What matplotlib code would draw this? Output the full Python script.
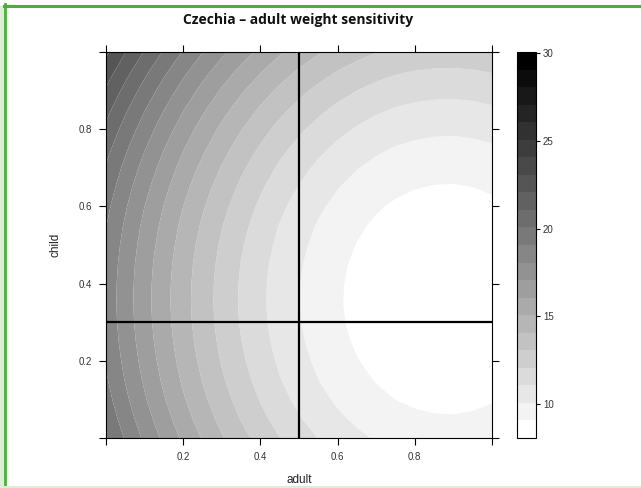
import matplotlib
matplotlib.use("Agg")
import matplotlib.pyplot as plt
import numpy as np
from matplotlib.colors import ListedColormap, BoundaryNorm
from matplotlib.patches import Rectangle
from matplotlib.lines import Line2D

# grid (adult across, child down the rows), step 0.05
adult = [0.0, 0.05, 0.1, 0.15, 0.2, 0.25, 0.3, 0.35, 0.4, 0.45, 0.5,
         0.55, 0.6, 0.65, 0.7, 0.75, 0.8, 0.85, 0.9, 0.95, 1.0]
child = [0.0, 0.05, 0.1, 0.15, 0.2, 0.25, 0.3, 0.35, 0.4, 0.45, 0.5,
         0.55, 0.6, 0.65, 0.7, 0.75, 0.8, 0.85, 0.9, 0.95, 1.0]
value = [
    [20.15, 18.98, 17.88, 16.85, 15.88, 14.99, 14.16, 13.40, 12.71, 12.08, 11.53, 11.04, 10.62, 10.27, 9.98, 9.76, 9.62, 9.54, 9.52, 9.58, 9.70],
    [19.77, 18.60, 17.50, 16.47, 15.50, 14.61, 13.78, 13.02, 12.33, 11.70, 11.15, 10.66, 10.24, 9.89, 9.60, 9.38, 9.24, 9.16, 9.14, 9.20, 9.32],
    [19.45, 18.28, 17.18, 16.15, 15.18, 14.29, 13.46, 12.70, 12.01, 11.38, 10.83, 10.34, 9.92, 9.57, 9.28, 9.06, 8.92, 8.84, 8.82, 8.88, 9.00],
    [19.19, 18.02, 16.92, 15.89, 14.92, 14.03, 13.20, 12.44, 11.75, 11.12, 10.57, 10.08, 9.66, 9.31, 9.02, 8.80, 8.66, 8.58, 8.56, 8.62, 8.74],
    [18.99, 17.82, 16.72, 15.69, 14.72, 13.83, 13.00, 12.24, 11.55, 10.92, 10.37, 9.88, 9.46, 9.11, 8.82, 8.60, 8.46, 8.38, 8.36, 8.42, 8.54],
    [18.84, 17.67, 16.57, 15.54, 14.57, 13.68, 12.85, 12.09, 11.40, 10.77, 10.22, 9.73, 9.31, 8.96, 8.67, 8.45, 8.31, 8.23, 8.21, 8.27, 8.39],
    [18.74, 17.57, 16.47, 15.44, 14.47, 13.58, 12.75, 11.99, 11.30, 10.67, 10.12, 9.63, 9.21, 8.86, 8.57, 8.35, 8.21, 8.13, 8.11, 8.17, 8.29],
    [18.70, 17.53, 16.43, 15.40, 14.43, 13.54, 12.71, 11.95, 11.26, 10.63, 10.08, 9.59, 9.17, 8.82, 8.53, 8.31, 8.17, 8.09, 8.07, 8.13, 8.25],
    [18.72, 17.55, 16.45, 15.42, 14.45, 13.56, 12.73, 11.97, 11.28, 10.65, 10.10, 9.61, 9.19, 8.84, 8.55, 8.33, 8.19, 8.11, 8.09, 8.15, 8.27],
    [18.79, 17.62, 16.52, 15.49, 14.52, 13.63, 12.80, 12.04, 11.35, 10.72, 10.17, 9.68, 9.26, 8.91, 8.62, 8.40, 8.26, 8.18, 8.16, 8.22, 8.34],
    [18.92, 17.75, 16.65, 15.62, 14.65, 13.76, 12.93, 12.17, 11.48, 10.85, 10.30, 9.81, 9.39, 9.04, 8.75, 8.53, 8.39, 8.31, 8.29, 8.35, 8.47],
    [19.10, 17.93, 16.83, 15.80, 14.83, 13.94, 13.11, 12.35, 11.66, 11.03, 10.48, 9.99, 9.57, 9.22, 8.93, 8.71, 8.57, 8.49, 8.47, 8.53, 8.65],
    [19.34, 18.17, 17.07, 16.04, 15.07, 14.18, 13.35, 12.59, 11.90, 11.27, 10.72, 10.23, 9.81, 9.46, 9.17, 8.95, 8.81, 8.73, 8.71, 8.77, 8.89],
    [19.64, 18.47, 17.37, 16.34, 15.37, 14.48, 13.65, 12.89, 12.20, 11.57, 11.02, 10.53, 10.11, 9.76, 9.47, 9.25, 9.11, 9.03, 9.01, 9.07, 9.19],
    [19.99, 18.82, 17.72, 16.69, 15.72, 14.83, 14.00, 13.24, 12.55, 11.92, 11.37, 10.88, 10.46, 10.11, 9.82, 9.60, 9.46, 9.38, 9.36, 9.42, 9.54],
    [20.40, 19.23, 18.13, 17.10, 16.13, 15.24, 14.41, 13.65, 12.96, 12.33, 11.78, 11.29, 10.87, 10.52, 10.23, 10.01, 9.87, 9.79, 9.77, 9.83, 9.95],
    [20.86, 19.69, 18.59, 17.56, 16.59, 15.70, 14.87, 14.11, 13.42, 12.79, 12.24, 11.75, 11.33, 10.98, 10.69, 10.47, 10.33, 10.25, 10.23, 10.29, 10.41],
    [21.38, 20.21, 19.11, 18.08, 17.11, 16.22, 15.39, 14.63, 13.94, 13.31, 12.76, 12.27, 11.85, 11.50, 11.21, 10.99, 10.85, 10.77, 10.75, 10.81, 10.93],
    [21.95, 20.78, 19.68, 18.65, 17.68, 16.79, 15.96, 15.20, 14.51, 13.88, 13.33, 12.84, 12.42, 12.07, 11.78, 11.56, 11.42, 11.34, 11.32, 11.38, 11.50],
    [22.58, 21.41, 20.31, 19.28, 18.31, 17.42, 16.59, 15.83, 15.14, 14.51, 13.96, 13.47, 13.05, 12.70, 12.41, 12.19, 12.05, 11.97, 11.95, 12.01, 12.13],
    [23.27, 22.10, 21.00, 19.97, 19.00, 18.11, 17.28, 16.52, 15.83, 15.20, 14.65, 14.16, 13.74, 13.39, 13.10, 12.88, 12.74, 12.66, 12.64, 12.70, 12.82],
]
levels = [8.07 + i for i in range(23)]
ref_adult = 0.5
ref_child = 0.3
tick_vals = [0.0, 0.2, 0.4, 0.6, 0.8, 1.0]
tick_labels = ["", "0.2", "0.4", "0.6", "0.8", ""]
cbar_ticks = [10, 15, 20, 25, 30]

nb = len(levels) - 1
greys = [str(1 - i / (nb - 1)) for i in range(nb)]
cmap = ListedColormap(greys)
norm = BoundaryNorm(levels, nb)

plt.rcParams['font.family'] = ['Liberation Sans', 'DejaVu Sans']

fig = plt.figure(figsize=(6.41, 4.88), dpi=100)
W, H = 641, 488

def box(x0, y0, x1, y1):
    return [x0 / W, 1 - y1 / H, (x1 - x0) / W, (y1 - y0) / H]

ax = fig.add_axes(box(106, 52, 492, 438))
ax.contourf(adult, child, np.array(value), levels=levels, cmap=cmap, norm=norm,
            antialiased=True)
ax.axvline(ref_adult, color='black', lw=1.6)
ax.axhline(ref_child, color='black', lw=1.6)
ax.set_xlim(0, 1)
ax.set_ylim(0, 1)
ax.set_xticks(tick_vals)
ax.set_xticklabels(tick_labels)
ax.set_yticks(tick_vals)
ax.set_yticklabels(tick_labels)
ax.tick_params(direction='out', length=5, width=0.8, labelsize=7,
               labelcolor='#333333', top=True, right=True, pad=5)
for s in ax.spines.values():
    s.set_linewidth(0.8)
ax.set_xlabel("adult", fontsize=8.5, color='#222222', labelpad=9)
ax.set_ylabel("child", fontsize=8.5, color='#222222', labelpad=12)

cax = fig.add_axes(box(517, 52, 536, 438))
cb = fig.colorbar(plt.cm.ScalarMappable(norm=norm, cmap=cmap), cax=cax,
                  boundaries=levels, ticks=cbar_ticks)
cb.minorticks_off()
cb.outline.set_linewidth(0.8)
cb.ax.tick_params(direction='out', length=3, width=0.8, labelsize=7,
                  labelcolor='#333333', pad=2)

fig.text(298 / W, 1 - 20 / H, "Czechia \u2013 adult weight sensitivity",
         ha='center', va='center', fontsize=10, fontweight='bold',
         family=['Open Sans', 'DejaVu Sans'], color='#111111')

# green frame around the page
fig.patches.append(Rectangle((0, 0), 4 / W, 1 - 6 / H, transform=fig.transFigure,
                             color='#dcefd6', zorder=0))
fig.lines.append(Line2D([4.5 / W, 4.5 / W], [0, 1 - 4 / H], transform=fig.transFigure,
                        color='#4caf3a', lw=2))
fig.lines.append(Line2D([3.5 / W, 1], [1 - 5.5 / H, 1 - 5.5 / H], transform=fig.transFigure,
                        color='#4caf3a', lw=2.2))
fig.lines.append(Line2D([0, 1], [1.5 / H, 1.5 / H], transform=fig.transFigure,
                        color='#dcefd6', lw=1.5))

fig.savefig("out.png", dpi=100)
